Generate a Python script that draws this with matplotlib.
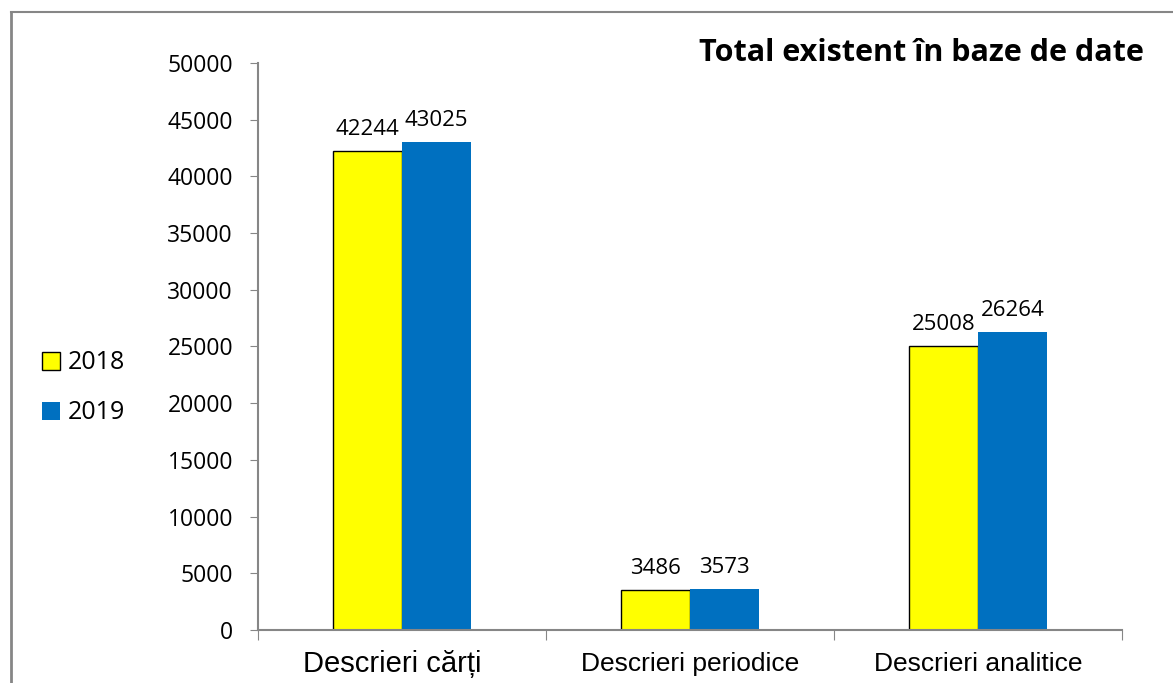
import numpy as np
import matplotlib.pyplot as plt
from matplotlib.lines import Line2D

categories = ['Descrieri cărți', 'Descrieri periodice', 'Descrieri analitice']
label_sizes = [21, 19, 19]
label_shift = [-0.035, 0, 0]
years = ['2018', '2019']
values_2018 = [42244, 3486, 25008]
values_2019 = [43025, 3573, 26264]

plt.rcParams['font.family'] = ['Open Sans', 'DejaVu Sans']

fig = plt.figure(figsize=(11.73, 6.83), dpi=100)
ax = fig.add_axes([0.22, 0.0776, 0.7365, 0.8302])

x = np.arange(len(categories))
w = 0.24
b1 = ax.bar(x - w / 2, values_2018, w, color='#ffff00', edgecolor='black', linewidth=1, label=years[0])
b2 = ax.bar(x + w / 2, values_2019, w, color='#0070c0', edgecolor='none', label=years[1])

for bars in (b1, b2):
    for rect in bars:
        h = rect.get_height()
        ax.annotate(f'{h:.0f}', (rect.get_x() + rect.get_width() / 2, h),
                    xytext=(0, 8), textcoords='offset points',
                    ha='center', va='bottom', fontsize=16)

ax.set_xlim(-0.5, 2.5)
ax.set_ylim(0, 50000)
ax.set_yticks(np.arange(0, 50001, 5000))
ax.set_xticks([-0.5, 0.5, 1.5, 2.5])
ax.set_xticklabels([])
ax.tick_params(axis='x', direction='out', length=7, color='#868686')
ax.tick_params(axis='y', direction='out', length=6, color='#868686', labelsize=16.5, pad=12)

for i, (name, size, dx) in enumerate(zip(categories, label_sizes, label_shift)):
    ax.text(i + dx, -0.06, name, transform=ax.get_xaxis_transform(), ha='center', va='center',
            fontsize=size, family=['Liberation Sans Narrow', 'Liberation Sans', 'DejaVu Sans'])

for side in ('top', 'right'):
    ax.spines[side].set_visible(False)
for side in ('left', 'bottom'):
    ax.spines[side].set_color('#868686')
    ax.spines[side].set_linewidth(1.5)

fig.legend(handles=[b1, b2], labels=years, loc='center left', bbox_to_anchor=(0.025, 0.432),
           frameon=False, fontsize=18, handlelength=0.72, handleheight=0.72,
           handletextpad=0.3, labelspacing=1.0, borderpad=0)

fig.text(0.975, 0.922, 'Total existent în baze de date', ha='right', va='center',
         fontsize=22, fontweight='bold')

# chart-area border (top and left)
fig.add_artist(Line2D([0.009, 1.0], [0.982, 0.982], color='#868686', lw=1.5, transform=fig.transFigure))
fig.add_artist(Line2D([0.009, 0.009], [0.0, 0.982], color='#868686', lw=2, transform=fig.transFigure))

fig.savefig('out.png', dpi=100, facecolor='white')
